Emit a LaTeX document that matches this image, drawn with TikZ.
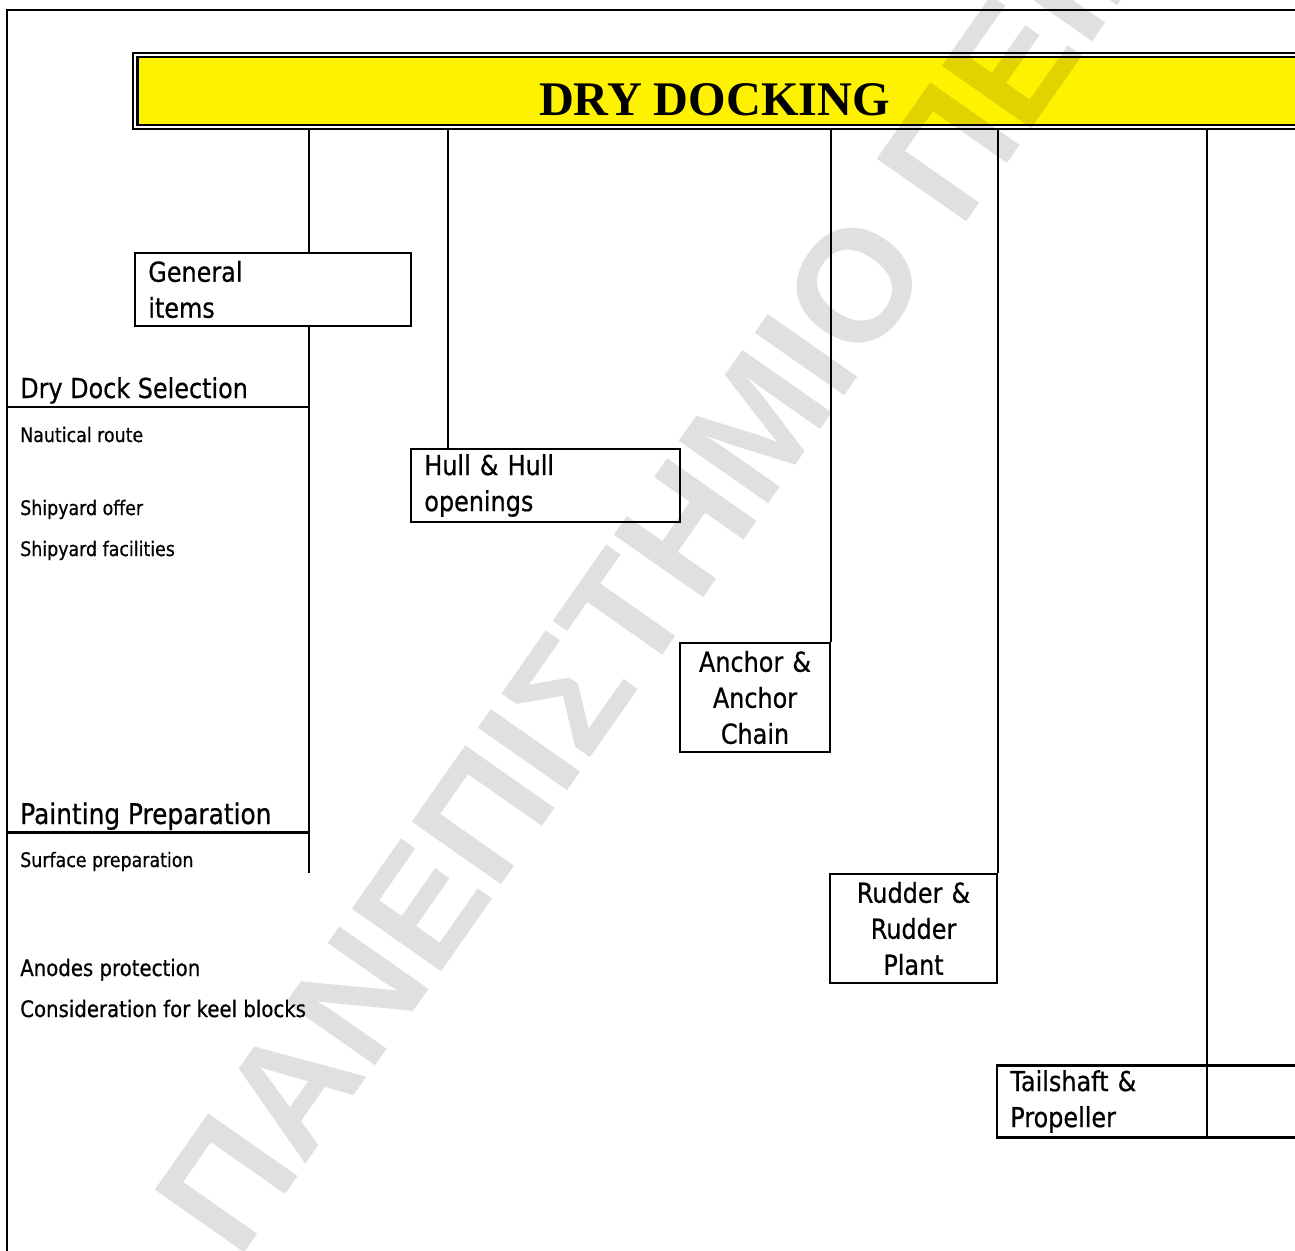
\documentclass[tikz,border=0pt]{standalone}
\usepackage{fontspec}
\newfontfamily\boxfont[FakeStretch=0.87,FakeBold=0.6]{DejaVu Sans}
\newfontfamily\titlefont{Liberation Serif}
\newfontfamily\wmfont{Liberation Sans}
\tikzset{
  pbox/.style={draw, line width=1.6pt, inner xsep=10pt, inner ysep=2pt,
    font=\boxfont\fontsize{20.6}{27}\selectfont},
  lblbig/.style={anchor=base west, inner sep=0pt, font=\boxfont\fontsize{20.6}{27}\selectfont},
  lblmid/.style={anchor=base west, inner sep=0pt, font=\boxfont\fontsize{17}{20}\selectfont},
  lblsmall/.style={anchor=base west, inner sep=0pt, font=\boxfont\fontsize{15}{18}\selectfont},
  conn/.style={line width=1.6pt},
  wmark/.style={font=\wmfont\bfseries\fontsize{119}{125}\selectfont, rotate=55,
      anchor=base west, inner sep=0pt, text opacity=0.12},
}
\begin{document}
\begin{tikzpicture}[x=0.75pt,y=-0.75pt]
\useasboundingbox (0,0) rectangle (1295,1250);
\clip (0,0) rectangle (1295,1250);
\fill[white] (0,0) rectangle (1295,1250);
% title
\node[fill=yellow, minimum width=875pt, minimum height=53.74pt, inner sep=0pt,
      anchor=north west] (title) at (135.4,55) {};
\draw[double=white, double distance=1.6pt, line width=1.55pt]
      (title.north west) rectangle (title.south east);
\node[font=\titlefont\bfseries\fontsize{36.2}{40}\selectfont, anchor=base, inner sep=0pt]
      (titletext) at (714.5,115) {DRY DOCKING};
% outer frame
\coordinate (fbl) at (7,1262);
\coordinate (ftl) at (7,10);
\coordinate (ftr) at (1310,10);
\draw[conn] (fbl) -- (ftl) -- (ftr);
% boxes
\node[pbox, minimum width=207pt, minimum height=54.75pt, text width=187pt, align=left]
      (gen) at (273,289.5) {General\\items};
\node[pbox, minimum width=201.75pt, minimum height=54.75pt, text width=181.75pt, align=left]
      (hull) at (545.5,485.5) {Hull \& Hull\\openings};
\node[pbox, minimum width=112.5pt, minimum height=81.75pt, text width=92.5pt, align=center]
      (anchor) at (755,697.5) {Anchor \&\\Anchor\\Chain};
\node[pbox, minimum width=125.25pt, minimum height=81.75pt, text width=105.25pt, align=center]
      (rudder) at (913.5,928.5) {Rudder \&\\Rudder\\Plant};
\node[pbox, minimum width=227.25pt, minimum height=54pt, text width=207.25pt, align=left]
      (tail) at (1148.5,1101.5) {Tailshaft \&\\Propeller};
% connector coordinates
\coordinate (c1) at (309,0);
\coordinate (c2) at (448,0);
\coordinate (c5) at (1207,0);
\coordinate (ddend) at (309,873);
\coordinate (dl) at (7,407.3);
\coordinate (pl) at (7,832.5);
% connectors
\draw[conn, shorten <=1.5pt] (title.south -| c1) -- (gen.north -| c1);
\draw[conn] (gen.south -| c1) -- (ddend);
\draw[conn, shorten <=1.5pt] (title.south -| c2) -- (hull.north -| c2);
\draw[conn, shorten <=1.5pt] (title.south -| anchor.north east) -- (anchor.north east);
\draw[conn, shorten <=1.5pt] (title.south -| rudder.north east) -- (rudder.north east);
\draw[conn, shorten <=1.5pt] (title.south -| c5) -- (tail.south -| c5);
\draw[conn] (dl) -- (dl -| ddend);
\draw[conn] (pl) -- (pl -| ddend);
% left labels
\node[lblbig] (dds) at (20,398) {Dry Dock Selection};
\node[lblsmall] (naut) at (20,442) {Nautical route};
\node[lblsmall] (soff) at (20,515) {Shipyard offer};
\node[lblsmall] (sfac) at (20,556) {Shipyard facilities};
\node[lblbig, font=\boxfont\fontsize{21.4}{27}\selectfont] (pp) at (20,824) {Painting Preparation};
\node[lblsmall] (surf) at (20,867) {Surface preparation};
\node[lblmid] (anod) at (20,976) {Anodes protection};
\node[lblmid] (keel) at (20,1017) {Consideration for keel blocks};
% watermark
\node[wmark] (wm) at (238,1262) {ΠΑΝΕΠΙΣΤΗΜΙΟ ΠΕΙΡΑΙΩΣ};
\end{tikzpicture}
\end{document}
